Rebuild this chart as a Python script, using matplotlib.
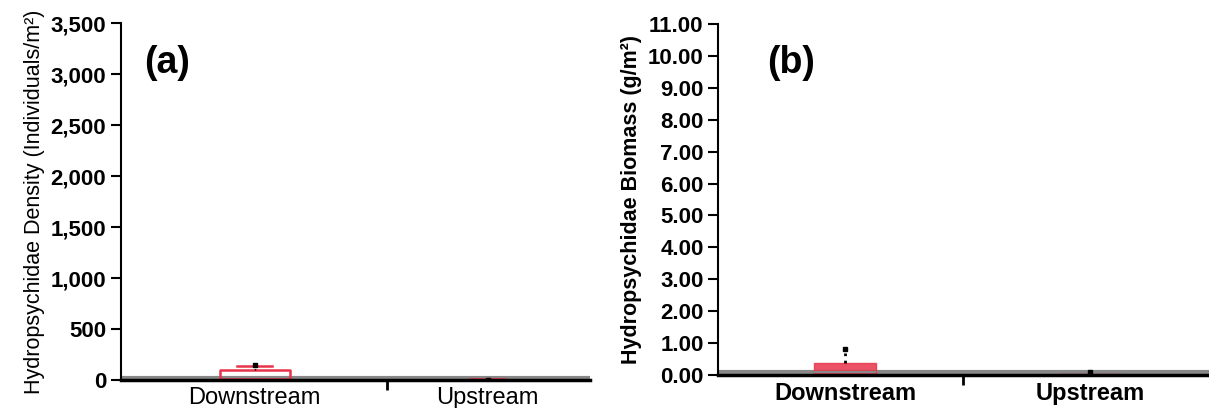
import matplotlib.pyplot as plt

plt.rcParams['font.family'] = ['Liberation Sans', 'DejaVu Sans']

sites = ["Downstream", "Upstream"]

# density (individuals/m2): box stats
dens_q1 = [0, 0]
dens_med = [10, 2]
dens_q3 = [95, 4]
dens_lo = [0, 0]
dens_hi = [140, 6]
dens_mean = [150, 5]

# biomass (g/m2)
bio_q1 = [0.0, 0.0]
bio_med = [0.1, 0.01]
bio_q3 = [0.38, 0.03]
bio_lo = [0.0, 0.0]
bio_hi = [0.7, 0.05]
bio_out = [0.82, 0.08]

red = '#e8344a'

fig = plt.figure(figsize=(12.09, 4.08), dpi=100)
ax1 = fig.add_axes([0.100, 0.0686, 0.388, 0.875])
ax2 = fig.add_axes([0.594, 0.081, 0.406, 0.860])

# ---- panel (a)
stats = []
for i in range(2):
    stats.append(dict(q1=dens_q1[i], med=dens_med[i], q3=dens_q3[i],
                      whislo=dens_lo[i], whishi=dens_hi[i], mean=dens_mean[i]))
ax1.axhline(20, color='#888888', lw=3, zorder=1)
ax1.bxp(stats, positions=[0, 1], widths=0.3, showmeans=True, showfliers=False,
        boxprops=dict(color=red, lw=1.8), medianprops=dict(color=red, lw=1.2),
        whiskerprops=dict(color='black', lw=1, ls=':'),
        capprops=dict(color=red, lw=1.8),
        meanprops=dict(marker='s', markerfacecolor='black', markeredgecolor='black', markersize=3))
ax1.set_ylim(0, 3500)
ax1.set_yticks(range(0, 3501, 500))
ax1.set_yticklabels([f"{v:,}" for v in range(0, 3501, 500)], fontsize=16, fontweight='bold')
ax1.set_xlim(-0.575, 1.44)
ax1.set_xticks([0, 1])
ax1.set_xticklabels(sites, fontsize=17)
ax1.set_xticks([0.57], minor=True)
ax1.tick_params(axis='x', which='major', length=0, pad=5)
ax1.tick_params(axis='x', which='minor', length=7, width=2)
ax1.tick_params(axis='y', length=7, width=1.5)
ax1.set_ylabel("Hydropsychidae Density (Individuals/m²)", fontsize=15.5)
ax1.text(0.05, 0.86, "(a)", transform=ax1.transAxes, fontsize=27, fontweight='bold')

# ---- panel (b)
stats = []
for i in range(2):
    stats.append(dict(q1=bio_q1[i], med=bio_med[i], q3=bio_q3[i],
                      whislo=bio_lo[i], whishi=bio_hi[i], fliers=[bio_out[i]]))
ax2.axhline(0.1, color='#888888', lw=3, zorder=1)
ax2.bxp(stats, positions=[0, 1], widths=0.25, patch_artist=True,
        boxprops=dict(facecolor=red, edgecolor=red, alpha=0.85),
        medianprops=dict(color='#888888', lw=1.5),
        whiskerprops=dict(color='black', lw=2, ls=':'),
        capprops=dict(lw=0),
        flierprops=dict(marker='s', markerfacecolor='black', markeredgecolor='black', markersize=3))
ax2.set_ylim(0, 11)
ax2.set_yticks(range(0, 12))
ax2.set_yticklabels([f"{v:.2f}" for v in range(0, 12)], fontsize=16, fontweight='bold')
ax2.set_xlim(-0.518, 1.486)
ax2.set_xticks([0, 1])
ax2.set_xticklabels(sites, fontsize=17, fontweight='bold')
ax2.set_xticks([0.48], minor=True)
ax2.tick_params(axis='x', which='major', length=0, pad=5)
ax2.tick_params(axis='x', which='minor', length=7, width=2)
ax2.tick_params(axis='y', length=7, width=1.5)
ax2.set_ylabel("Hydropsychidae Biomass (g/m²)", fontsize=15.5, fontweight='bold')
ax2.text(0.1, 0.86, "(b)", transform=ax2.transAxes, fontsize=27, fontweight='bold')

for ax in (ax1, ax2):
    ax.spines['top'].set_visible(False)
    ax.spines['right'].set_visible(False)
    ax.spines['left'].set_linewidth(1.5)
    ax.spines['bottom'].set_linewidth(2.5)

fig.savefig("out.png", dpi=100)
